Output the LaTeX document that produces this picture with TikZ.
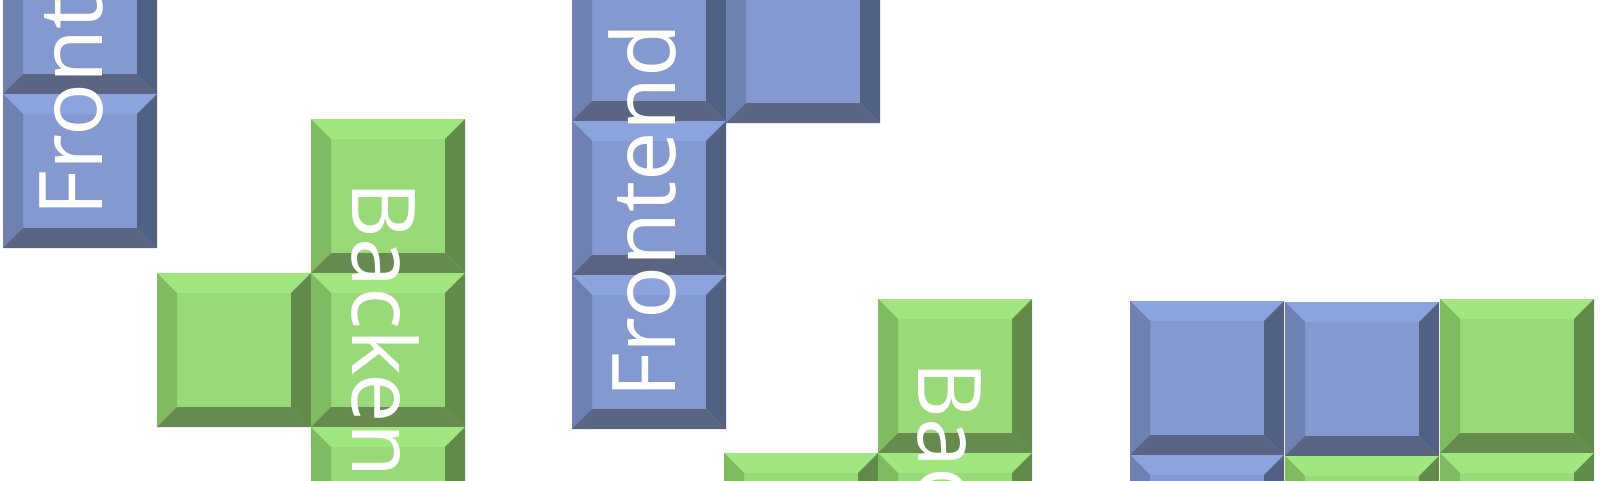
\documentclass[tikz,border=0pt]{standalone}
\usepackage{fontspec}
\newfontfamily\labfont{Open Sans}
\definecolor{bface}{RGB}{131,153,207}
\definecolor{btop}{RGB}{141,163,221}
\definecolor{bleft}{RGB}{111,128,177}
\definecolor{bright}{RGB}{82,97,130}
\definecolor{bbot}{RGB}{90,101,132}
\definecolor{gface}{RGB}{153,217,119}
\definecolor{gtop}{RGB}{162,230,127}
\definecolor{gleft}{RGB}{128,187,98}
\definecolor{gright}{RGB}{98,138,74}
\definecolor{gbot}{RGB}{102,138,80}
\def\ts{154}
\def\bw{20}
\newcommand\tilebody[5]{%
  \fill[#1] (0,0) rectangle (\ts,\ts);
  \fill[#2] (0,0) -- (\ts,0) -- (\ts-\bw,\bw) -- (\bw,\bw) -- cycle;
  \fill[#3] (0,0) -- (\bw,\bw) -- (\bw,\ts-\bw) -- (0,\ts) -- cycle;
  \fill[#4] (\ts,0) -- (\ts,\ts) -- (\ts-\bw,\ts-\bw) -- (\ts-\bw,\bw) -- cycle;
  \fill[#5] (0,\ts) -- (\ts,\ts) -- (\ts-\bw,\ts-\bw) -- (\bw,\ts-\bw) -- cycle;
}
\tikzset{
  pics/btile/.style={code={\tilebody{bface}{btop}{bleft}{bright}{bbot}}},
  pics/gtile/.style={code={\tilebody{gface}{gtop}{gleft}{gright}{gbot}}},
  lab/.style={text=white, inner sep=0pt, anchor=base west,
    font=\labfont\fontsize{88}{96}\selectfont},
  fronttext/.style={lab, rotate=90},
  backtext/.style={lab, rotate=-90}
}
\begin{document}
\begin{tikzpicture}[x=1pt,y=-1pt]
\clip (0,0) rectangle (1600,480);
% group A (blue, Frontend)
\pic at (3,-60) {btile};
\pic at (3,94) {btile};
% group B (green, Backend)
\pic at (311,119) {gtile};
\pic at (157,273) {gtile};
\pic at (311,273) {gtile};
\pic at (311,427) {gtile};
% group C (blue, Frontend)
\pic at (572,-33) {btile};
\pic at (726,-31) {btile};
\pic at (572,121) {btile};
\pic at (572,275) {btile};
% group D (green, Backend)
\pic at (878,299) {gtile};
\pic at (724,453) {gtile};
\pic at (878,453) {gtile};
% group E
\pic at (1130,301) {btile};
\pic at (1285,302) {btile};
\pic at (1440,299) {gtile};
\pic at (1130,455) {btile};
\pic at (1285,456) {gtile};
\pic at (1440,453) {gtile};
% labels
\node[fronttext] (fA) at (102,216.6) {Frontend};
\node[backtext] (bB) at (352,181.4) {Backend};
\node[fronttext] (fC) at (675,399) {Frontend};
\node[backtext] (bD) at (918,361.4) {Backend};
\end{tikzpicture}
\end{document}
